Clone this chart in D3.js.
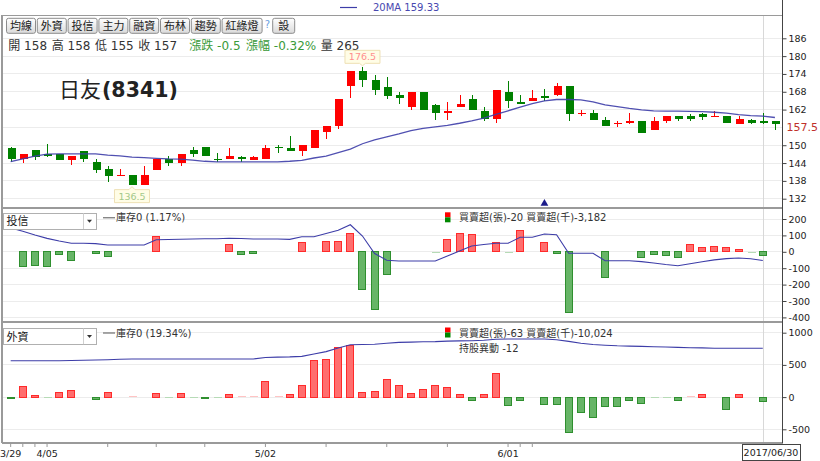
<!DOCTYPE html>
<html><head><meta charset="utf-8">
<script src="https://cdn.jsdelivr.net/npm/d3@7"></script>
<style>html,body{margin:0;padding:0;background:#fff}svg{display:block}</style>
</head><body>
<svg id="c" width="820" height="461"></svg>
<script>
// ---------------- data ----------------
const dates = ["3/29","3/30","3/31","4/05","4/06","4/07","4/10","4/11","4/12","4/13","4/14","4/17","4/18","4/19","4/20","4/21","4/24","4/25","4/26","4/27","4/28",
"5/02","5/03","5/04","5/05","5/08","5/09","5/10","5/11","5/12","5/15","5/16","5/17","5/18","5/19","5/22","5/23","5/24","5/25","5/26","5/31",
"6/01","6/02","6/05","6/06","6/07","6/08","6/09","6/12","6/13","6/14","6/15","6/16","6/19","6/20","6/21","6/22","6/23","6/26","6/27","6/28","6/29","6/30","7/03"];
const opens  = [149,145.5,148.5,147,147,145,148,144.5,142,139.5,140,136.5,141.5,145.5,144,148.5,149.5,145.5,145.5,146,145,145.5,149.5,149,148,149,154.5,156.5,170,175,172,169.5,167,163,168,163.5,161,163,165.5,161.5,159,168,164.5,165,166.5,167,170,160.5,161,158.5,157,157.5,158,155,158,160,160,160.5,159.5,160,157,158.5,158,158];
const highs  = [149.5,147,148.5,150.5,147,146.5,148,145.5,143,142,140,143,145.5,146.5,147,149.5,149.5,147.5,149,146.5,146.5,150,150,153,150,155,156.5,165.5,175,176.5,173.5,173,168,168,168,164,164.5,167,167,163,168.5,171.5,167,168.5,169,171,170,162,162,159.5,158,161,158,159.5,160,160,160.5,161,161.5,160,160,159,161,158];
const lows   = [144.5,144,145,146,145,143.5,144.5,140.5,137.5,139.5,136.5,136.5,141.5,143,143,146,146.5,144.5,145.5,144.5,145,145.5,147.5,148,146.5,149,152,155.5,166,169.5,167,165.5,164,162,162,158.5,158.5,163,162,158,157.5,162.5,164,165,165,166.5,158,160,158.5,156.5,156,157,154,155,157.5,158,158,158.5,159.5,157.5,157,157,157,155];
const closes = [145.5,147,146,146.5,145,146.5,145.5,141.5,139.5,140,136.5,140,145.5,144,147,147,146.5,145,146.5,145.5,146,149,149,148,150,155,156.5,165.5,175,172,168.5,166.5,166,168,162,161,161.5,164,162,159,168.5,165,164,166,166,170,160.5,161,158.5,156.5,157.5,158,154,158,160,159,159,159.5,160,157.5,159,157.5,157.5,157];
const ma20   = [144.5,145.4,146.3,147.0,147.1,147.1,147.1,147.1,146.7,146.4,146.0,145.8,145.6,145.4,145.3,145.0,144.6,144.4,144.4,144.4,144.4,144.4,144.4,144.6,144.9,145.7,146.3,147.5,148.7,150.5,151.8,152.8,153.8,154.9,155.7,156.2,156.7,157.4,158.2,159.1,160.4,161.6,162.8,164.0,164.9,165.4,165.4,165.3,164.6,163.6,163.0,162.4,161.9,161.6,161.5,161.5,161.4,161.3,161.1,160.8,160.3,160.0,159.8,159.33];
const lastVolume = 265;

// 投信 (investment trust) net buy/sell (張) and holdings line
const trustNet  = [0,-89,-81,-89,-16,-55,0,-8,-26,0,0,0,96,0,0,0,0,0,45,-16,-12,0,0,0,59,0,65,65,114,-228,-352,-138,0,0,0,-4,75,114,108,0,57,-3,130,0,59,-8,-370,0,0,-159,0,0,-33,-18,-22,-33,45,26,35,26,12,-3,-20];
const trustHold = [1440,1374,1300,1232,1180,1134,1134,1128,1100,1100,1100,1100,1206,1210,1214,1220,1224,1226,1236,1230,1220,1220,1220,1212,1265,1265,1330,1395,1505,1280,930,794,780,780,780,780,880,980,1080,1110,1134,1134,1254,1254,1320,1306,934,934,934,786,786,786,768,740,710,686,724,764,802,828,840,826,790];
// 外資 (foreign) net buy/sell (張) and holdings line
const foreignNet  = [-26,160,26,-15,72,98,0,-36,77,0,10,0,62,-15,62,-12,-26,-12,46,15,15,248,10,41,175,562,583,769,795,77,93,273,186,62,114,175,155,36,-46,46,366,-129,-57,0,-108,-108,-552,-243,-310,-144,-144,-46,-98,-15,-15,-57,10,36,0,-191,46,0,-63];
const foreignHold = [9825,9825,9825,9825,9825,9875,9925,10000,10075,10175,
10250,10250,10250,10250,10250,10250,10250,10250,10250,10250,10250,
10625,10725,10775,10900,11500,12100,13000,13800,13875,13925,14175,14400,14475,14550,14600,14725,14775,14825,14950,15200,
15250,15250,15250,15250,15075,14650,14175,13875,13700,13550,13475,13400,13325,13250,13150,13075,13025,12950,12925,12925,12925,12925];

const priceGrid  = [186,180,174,168,162,156,150,144,138,132];
const priceTicks = [186,180,174,168,162,150,144,138,132];
const trustTicks = [200,100,0,-100,-200,-300,-400];
const foreignTicks = [1000,500,0,-500];
const dateTicks  = ["3/29","3/30","3/31","4/05","4/12","4/18","4/24","5/02","5/09","5/16","5/23","6/01","6/02","6/05"];
const dateLabels = ["3/29","4/05","5/02","6/01"];
const toolbarLabels = ["均線","外資","投信","主力","融資","布林","趨勢","紅綠燈"];
const stockName = "日友", stockCode = "(8341)";
const trustLegend = ["庫存0 (1.17%)", "買賣超(張)-20 買賣超(千)-3,182"];
const foreignLegend = ["庫存0 (19.34%)", "買賣超(張)-63 買賣超(千)-10,024", "持股異動 -12"];
const markerDate = "6/06";
const cursorDate = "6/30", cursorLabel = "2017/06/30";

// ---------------- setup ----------------
const FONT = "'DejaVu Sans','Noto Sans CJK TC',sans-serif";
const CJK = "'Noto Sans CJK TC','DejaVu Sans',sans-serif";
const svg = d3.select("#c").style("font-family", FONT);
const L = 2, R = 782.5, TOP = 15, P1B = 208, P2B = 322, BOT = 443;
const RED = "#ff0000", GREEN = "#008000", LINE = "#3d3da8";
const fmtNum = d => String(d);

const x = d3.scaleBand().domain(dates).range([4.6, 781]).padding(0);
const cx = d => x(d) + x.bandwidth() / 2;
const yP = d3.scaleLinear().domain([132, 186]).range([198.7, 38.3]);
const yT = d3.scaleLinear().domain([-400, 200]).range([317.4, 219]);
const yF = d3.scaleLinear().domain([-500, 1000]).range([429.3, 332.7]);
const yTH = d3.scaleLinear().domain([0, 2000]).range([300, 200]);
const yFH = d3.scaleLinear().domain([0, 25000]).range([400, 300]);

const defs = svg.append("defs");
const grad = defs.append("linearGradient").attr("id", "btn").attr("x1", 0).attr("y1", 0).attr("x2", 0).attr("y2", 1);
grad.append("stop").attr("offset", "0%").attr("stop-color", "#ffffff");
grad.append("stop").attr("offset", "100%").attr("stop-color", "#dadada");

// ---------------- grids ----------------
const grid = svg.append("g").attr("shape-rendering", "crispEdges").attr("stroke", "#ececec");
grid.selectAll(".gp").data(priceGrid).join("line").attr("x1", L).attr("x2", R).attr("y1", d => yP(d)).attr("y2", d => yP(d));
grid.selectAll(".gt").data(trustTicks).join("line").attr("x1", L).attr("x2", R).attr("y1", d => yT(d)).attr("y2", d => yT(d));
grid.selectAll(".gf").data(foreignTicks).join("line").attr("x1", L).attr("x2", R).attr("y1", d => yF(d)).attr("y2", d => yF(d));

// crosshair
svg.append("line").attr("x1", Math.round(cx(cursorDate)) + 0.5).attr("x2", Math.round(cx(cursorDate)) + 0.5)
  .attr("y1", TOP).attr("y2", BOT).attr("stroke", "#d8d8d8");

// ---------------- candles ----------------
const idx = d3.range(dates.length);
const candleColor = i => closes[i] > opens[i] ? RED : closes[i] < opens[i] ? GREEN : (i > 0 && closes[i] < closes[i-1] ? GREEN : RED);
const cg = svg.append("g").attr("shape-rendering", "crispEdges");
cg.selectAll("line").data(idx).join("line")
  .attr("x1", i => Math.round(cx(dates[i])) + 0.5).attr("x2", i => Math.round(cx(dates[i])) + 0.5)
  .attr("y1", i => yP(highs[i])).attr("y2", i => yP(lows[i]))
  .attr("stroke", candleColor).attr("stroke-width", 1);
cg.selectAll("rect").data(idx).join("rect")
  .attr("x", i => Math.round(cx(dates[i])) - 3.5).attr("width", 8)
  .attr("y", i => yP(Math.max(opens[i], closes[i])))
  .attr("height", i => Math.max(1, Math.abs(yP(opens[i]) - yP(closes[i]))))
  .attr("fill", candleColor);

// MA20
svg.append("path").datum(idx).attr("fill", "none").attr("stroke", LINE).attr("stroke-width", 1.3).attr("stroke-opacity", 0.9)
  .attr("d", d3.line().x(i => cx(dates[i])).y(i => yP(ma20[i])));

// marker triangle
svg.append("path").attr("d", d3.symbol(d3.symbolTriangle, 26)())
  .attr("transform", `translate(${cx(markerDate)},${203.5})`).attr("fill", "#1c1c8a");

// ---------------- net bars ----------------
function bars(values, y) {
  const g = svg.append("g").attr("shape-rendering", "crispEdges");
  const data = values.map((v, i) => ({ v, d: dates[i] })).filter(o => o.v !== 0);
  g.selectAll("rect").data(data).join("rect")
    .each(function (o) {
      const y0 = y(0), y1 = y(o.v), h = Math.abs(y1 - y0);
      const up = o.v > 0;
      const r = d3.select(this).attr("x", Math.round(cx(o.d)) - 3.5).attr("width", h < 1.3 ? 8 : 7);
      if (h < 1.3) {
        r.attr("y", up ? y0 - 1 : y0).attr("height", 1.2).attr("fill", up ? "#ffc4c4" : "#b6dbb6");
      } else {
        r.attr("y", Math.min(y0, y1)).attr("height", h)
          .attr("fill", up ? "#ff6e6e" : "#67b567").attr("stroke", up ? "#ff2a2a" : "#2f8f2f");
      }
    });
}
bars(trustNet, yT);
bars(foreignNet, yF);

// holdings lines
svg.append("path").datum(d3.range(trustHold.length)).attr("fill", "none").attr("stroke", LINE).attr("stroke-width", 1.1)
  .attr("d", d3.line().x(i => cx(dates[i])).y(i => yTH(trustHold[i])));
svg.append("path").datum(d3.range(foreignHold.length)).attr("fill", "none").attr("stroke", LINE).attr("stroke-width", 1.1)
  .attr("d", d3.line().x(i => cx(dates[i])).y(i => yFH(foreignHold[i])));

// ---------------- frame ----------------
const frame = svg.append("g").attr("stroke", "#9a9a9a").attr("shape-rendering", "crispEdges");
[TOP, P1B, P2B, BOT].forEach(yy => frame.append("line").attr("x1", L).attr("x2", R).attr("y1", yy).attr("y2", yy).attr("stroke-width", yy === TOP ? 1 : 1.5));
frame.append("line").attr("x1", L).attr("x2", L).attr("y1", TOP).attr("y2", BOT).attr("stroke-width", 1.6);
svg.append("line").attr("x1", R).attr("x2", R).attr("y1", 0).attr("y2", BOT).attr("stroke", "#444").attr("stroke-width", 1.2).attr("shape-rendering", "crispEdges");

// ---------------- right axes ----------------
function rightAxis(scale, ticks) {
  const g = svg.append("g").attr("transform", `translate(${R},0)`)
    .call(d3.axisRight(scale).tickValues(ticks).tickSize(4).tickPadding(2).tickFormat(fmtNum));
  g.select(".domain").remove();
  g.selectAll("line").attr("stroke", "#444");
  g.selectAll("text").attr("font-family", FONT).attr("font-size", 9.5).attr("fill", "#222");
}
rightAxis(yP, priceTicks);
rightAxis(yT, trustTicks);
rightAxis(yF, foreignTicks);
// last price label
const cursorClose = closes[dates.indexOf(cursorDate)];
svg.append("text").attr("x", R + 4).attr("y", yP(cursorClose) + 4).attr("dy", "0.35em")
  .attr("font-size", 11).attr("fill", "#c0302a").text(fmtNum(cursorClose));

// ---------------- bottom axis ----------------
const xa = svg.append("g").attr("transform", `translate(0,${BOT})`)
  .call(d3.axisBottom(x).tickValues(dateTicks).tickSize(4).tickPadding(3).tickFormat(d => dateLabels.includes(d) ? d : ""));
xa.select(".domain").remove();
xa.selectAll("line").attr("stroke", "#999");
xa.selectAll("text").attr("font-family", FONT).attr("font-size", 9.5).attr("fill", "#222");

// cursor date box
const cdx = 771;
svg.append("rect").attr("x", cdx - 29).attr("y", 444).attr("width", 58).attr("height", 16.5)
  .attr("fill", "#fff").attr("stroke", "#444").attr("shape-rendering", "crispEdges");
svg.append("text").attr("x", cdx).attr("y", 456).attr("text-anchor", "middle").attr("font-size", 9.5).attr("fill", "#222").text(cursorLabel);

// ---------------- top legend ----------------
svg.append("line").attr("x1", 340).attr("x2", 357).attr("y1", 7.5).attr("y2", 7.5).attr("stroke", LINE).attr("stroke-width", 1.2);
svg.append("text").attr("x", 373).attr("y", 11).attr("font-size", 10).attr("fill", "#4848b0").text("20MA " + ma20[ma20.length - 1]);

// ---------------- toolbar ----------------
let bx = 6.5;
const tb = svg.append("g");
toolbarLabels.forEach(t => {
  const w = t.length * 11 + 7;
  tb.append("rect").attr("x", bx).attr("y", 18.3).attr("width", w).attr("height", 15).attr("rx", 2)
    .attr("fill", "url(#btn)").attr("stroke", "#8c8c8c");
  tb.append("text").attr("x", bx + w / 2).attr("y", 29.8).attr("text-anchor", "middle")
    .attr("font-family", CJK).attr("font-size", 11).attr("fill", "#222").text(t);
  bx += w + 1.8;
});
tb.append("text").attr("x", bx + 3.5).attr("y", 27.5).attr("text-anchor", "middle").attr("font-size", 10).attr("fill", "#6aa0e0").text("?");
tb.append("rect").attr("x", 272.7).attr("y", 18.3).attr("width", 22).attr("height", 15).attr("rx", 2)
  .attr("fill", "url(#btn)").attr("stroke", "#8c8c8c");
tb.append("text").attr("x", 283.7).attr("y", 29.8).attr("text-anchor", "middle").attr("font-family", CJK)
  .attr("font-size", 11).attr("fill", "#222").text("設");

// ---------------- info line ----------------
const li = dates.length - 1;
const chg = closes[li] - closes[li - 1];
const info = [
  ["開 " + opens[li], "#333"], ["高 " + highs[li], "#333"], ["低 " + lows[li], "#333"], ["收 " + closes[li], "#333"],
  ["漲跌 " + chg.toFixed(1), "#3a9a3a"],
  ["漲幅 " + (chg / closes[li - 1] * 100).toFixed(2) + "%", "#3a9a3a"],
  ["量 " + lastVolume, "#333"]
];
const infoX = [8.3, 51.7, 95, 138.3, 189.3, 246, 320.7];
info.forEach(([t, c], k) => {
  svg.append("text").attr("x", infoX[k]).attr("y", 50).attr("font-size", 12).attr("fill", c).text(t);
});

// ---------------- title ----------------
const title = svg.append("text").attr("x", 59).attr("y", 96.5).attr("fill", "#222");
title.append("tspan").attr("font-family", CJK).attr("font-size", 21).text(stockName);
title.append("tspan").attr("font-family", "'DejaVu Sans',sans-serif").attr("font-weight", "bold").attr("font-size", 20.5).attr("dx", 1).text(stockCode);

// ---------------- callouts ----------------
function callout(i, val, above, color) {
  const c = cx(dates[i]), w = 35, h = 13;
  let p, t;
  if (above) {
    const b = yP(val) - 3.2; t = b - h;
    p = `M${c - w/2},${t}H${c + w/2}V${b}H${c + 3}L${c},${b + 2.5}L${c - 3},${b}H${c - w/2}Z`;
  } else {
    t = yP(val) + 4.3;
    const b = t + h;
    p = `M${c - w/2},${t}H${c - 3}L${c},${t - 3}L${c + 3},${t}H${c + w/2}V${b}H${c - w/2}Z`;
  }
  svg.append("path").attr("d", p).attr("fill", "#fffde6").attr("stroke", "#eee0b4");
  svg.append("text").attr("x", c).attr("y", t + 10).attr("text-anchor", "middle").attr("font-size", 9.5).attr("fill", color).text(fmtNum(val));
}
const hiI = d3.maxIndex(highs), loI = d3.minIndex(lows);
callout(hiI, highs[hiI], true, "#ff8f8f");
callout(loI, lows[loI], false, "#a3c98a");

// ---------------- panel legends ----------------
function dropdown(y0, label) {
  svg.append("rect").attr("x", 3.3).attr("y", y0).attr("width", 93.4).attr("height", 15.7)
    .attr("fill", "#fff").attr("stroke", "#b0b0b0").attr("shape-rendering", "crispEdges");
  svg.append("line").attr("x1", 83.5).attr("x2", 83.5).attr("y1", y0).attr("y2", y0 + 15.7).attr("stroke", "#d0d0d0");
  svg.append("path").attr("d", `M${87},${y0 + 6.5}H${92}L${89.5},${y0 + 9.5}Z`).attr("fill", "#333");
  svg.append("text").attr("x", 6.5).attr("y", y0 + 12).attr("font-family", CJK).attr("font-size", 11).attr("fill", "#222").text(label);
}
function panelLegend(y0, texts) {
  svg.append("line").attr("x1", 103).attr("x2", 115).attr("y1", y0 + 4.5).attr("y2", y0 + 4.5).attr("stroke", "#555");
  svg.append("text").attr("x", 116).attr("y", y0 + 8).attr("font-size", 10).attr("fill", "#333").text(texts[0]);
  svg.append("rect").attr("x", 445).attr("y", y0 - 1).attr("width", 5.5).attr("height", 5).attr("fill", "#f00");
  svg.append("rect").attr("x", 445).attr("y", y0 + 4).attr("width", 5.5).attr("height", 5).attr("fill", "#080");
  svg.append("text").attr("x", 459).attr("y", y0 + 8).attr("font-size", 10).attr("fill", "#333").text(texts[1]);
  if (texts[2]) svg.append("text").attr("x", 459).attr("y", y0 + 23).attr("font-size", 10).attr("fill", "#333").text(texts[2]);
}
dropdown(213.3, "投信");
panelLegend(213.3, trustLegend);
dropdown(328.5, "外資");
panelLegend(328.5, foreignLegend);
</script>
</body></html>
